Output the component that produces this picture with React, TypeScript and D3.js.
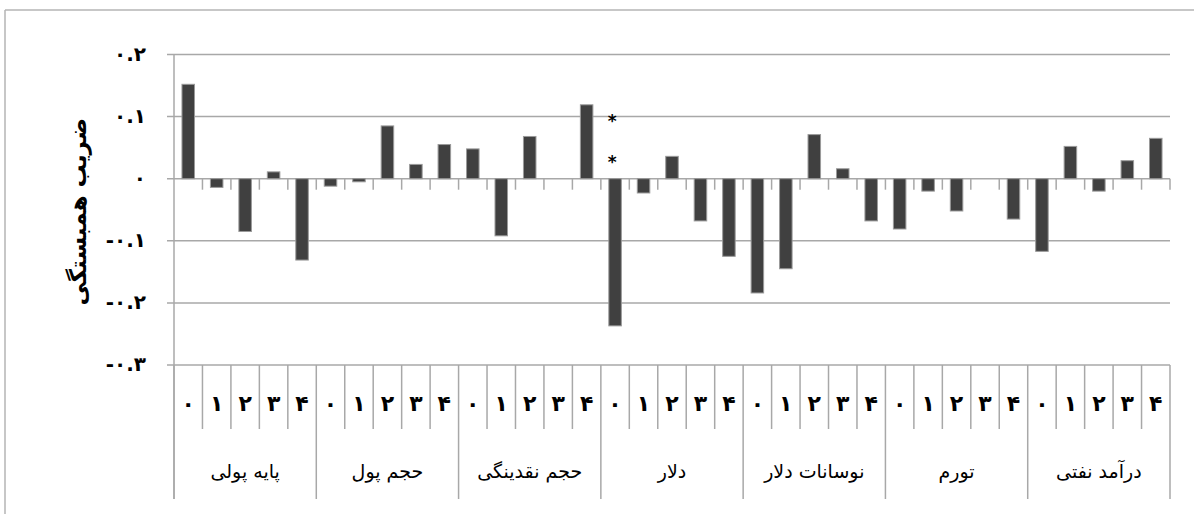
import React from "react";
import * as d3 from "d3";

const groups = ["پایه پولی", "حجم پول", "حجم نقدینگی", "دلار", "نوسانات دلار", "تورم", "درآمد نفتی"];
const lags = ["۰", "۱", "۲", "۳", "۴"];

const payePooli = [0.152, -0.014, -0.085, 0.011, -0.131];
const hajmPool = [-0.012, -0.005, 0.085, 0.023, 0.055];
const hajmNaghdinegi = [0.048, -0.092, 0.068, 0, 0.119];
const dollar = [-0.237, -0.023, 0.036, -0.068, -0.125];
const navasanatDollar = [-0.184, -0.145, 0.071, 0.016, -0.068];
const tavarom = [-0.081, -0.02, -0.052, 0, -0.065];
const daramadNafti = [-0.117, 0.052, -0.02, 0.029, 0.065];

const groupValues = [payePooli, hajmPool, hajmNaghdinegi, dollar, navasanatDollar, tavarom, daramadNafti];

const yTicks = [0.2, 0.1, 0, -0.1, -0.2, -0.3];
const yTickLabels = ["۰.۲", "۰.۱", "۰", "-۰.۱", "-۰.۲", "-۰.۳"];
const yTitle = "ضریب همبستگی";

// significance markers: bar index and marker heights (data units)
const starBarIndex = 15;
const starValues = [0.095, 0.03];

const W = 1194;
const H = 514;

export default function App() {
  const bars = groupValues.flatMap((vals, g) =>
    vals.map((v, l) => ({ key: `${g}-${l}`, g, l, v }))
  );
  const x = d3
    .scaleBand<string>()
    .domain(bars.map((b) => b.key))
    .range([174, 1170])
    .paddingInner(0)
    .paddingOuter(0);
  const y = d3.scaleLinear().domain([-0.3, 0.2]).range([365, 54.5]);
  const bw = x.bandwidth();
  const barW = bw * 0.44;
  const y0 = y(0);
  const yBottom = y(-0.3);
  const boundaries = d3.range(bars.length + 1).map((i) => 174 + i * bw);
  const gridColor = "#a8a8a8";
  const font = "'DejaVu Sans', sans-serif";

  return (
    <svg
      width={W}
      height={H}
      style={{ position: "absolute", left: 0, top: 0, background: "#fff" }}
    >
      {/* outer frame */}
      <line x1={5} y1={10} x2={W} y2={10} stroke="#b4b4b4" strokeWidth={1.5} />
      <line x1={5} y1={10} x2={5} y2={H} stroke="#b4b4b4" strokeWidth={1.5} />

      {/* gridlines */}
      {yTicks.map((t) => (
        <line
          key={t}
          x1={167}
          x2={1170}
          y1={y(t)}
          y2={y(t)}
          stroke={gridColor}
          strokeWidth={1.5}
        />
      ))}
      {/* left axis */}
      <line x1={174} x2={174} y1={y(0.2)} y2={499} stroke={gridColor} strokeWidth={1.5} />

      {/* y tick labels */}
      {yTicks.map((t, i) => (
        <text
          key={`yl${t}`}
          x={146}
          y={y(t)}
          dy="0.3em"
          textAnchor="end"
          fontFamily={font}
          fontWeight="bold"
          fontSize={20}
          fill="#000"
        >
          {yTickLabels[i]}
        </text>
      ))}

      {/* y title */}
      <text
        transform={`translate(78,${(y(0.1) + y(-0.2)) / 2 + 2}) rotate(-90)`}
        textAnchor="middle"
        dy="0.35em"
        fontFamily={font}
        fontWeight="bold"
        fontSize={23}
        fill="#000"
      >
        {yTitle}
      </text>

      {/* bars */}
      {bars.map((b) => {
        const cx = (x(b.key) as number) + bw / 2;
        const top = Math.min(y(b.v), y0);
        const h = Math.abs(y(b.v) - y0);
        if (h < 0.5) return null;
        return (
          <rect
            key={b.key}
            x={cx - barW / 2}
            y={top}
            width={barW}
            height={h}
            fill="#404040"
            stroke="#9a9a9a"
            strokeWidth={1}
          />
        );
      })}

      {/* zero line ticks */}
      {boundaries.slice(1).map((bx, i) => (
        <line key={`zt${i}`} x1={bx} x2={bx} y1={y0} y2={y0 + 11} stroke={gridColor} strokeWidth={1.5} />
      ))}

      {/* category axis dividers */}
      {boundaries.map((bx, i) => (
        <line
          key={`cd${i}`}
          x1={bx}
          x2={bx}
          y1={yBottom}
          y2={i % 5 === 0 ? 499 : 429}
          stroke={gridColor}
          strokeWidth={1.5}
        />
      ))}

      {/* lag labels */}
      {bars.map((b) => (
        <text
          key={`ll${b.key}`}
          x={(x(b.key) as number) + bw / 2}
          y={403}
          dy="0.35em"
          textAnchor="middle"
          fontFamily={font}
          fontWeight="bold"
          fontSize={22}
          fill="#000"
        >
          {lags[b.l]}
        </text>
      ))}

      {/* group labels */}
      {groups.map((g, i) => (
        <text
          key={`gl${i}`}
          x={174 + (i * 5 + 2.5) * bw}
          y={471}
          dy="0.35em"
          textAnchor="middle"
          fontFamily={font}
          fontSize={19}
          fill="#000"
        >
          {g}
        </text>
      ))}

      {/* significance stars */}
      {starValues.map((v, i) => (
        <text
          key={`st${i}`}
          x={(x(bars[starBarIndex].key) as number) + bw / 2 - 3}
          y={y(v)}
          dy="0.45em"
          textAnchor="middle"
          fontFamily={font}
          fontWeight="bold"
          fontSize={17}
          fill="#000"
        >
          *
        </text>
      ))}
    </svg>
  );
}
